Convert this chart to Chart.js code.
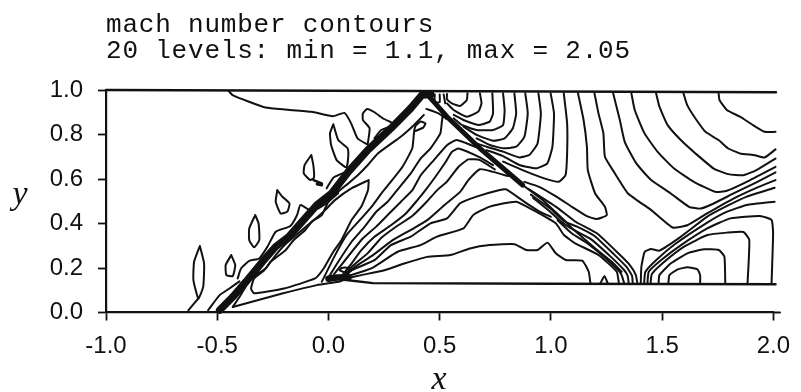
<!DOCTYPE html>
<html><head><meta charset="utf-8">
<style>html,body{margin:0;padding:0;background:#fff}canvas{display:block}</style>
<script src="https://cdn.jsdelivr.net/npm/chart.js@4"></script>
</head><body><canvas id="c" width="801" height="392"></canvas>
<script>
const titleLines = ["mach number contours", "20 levels: min = 1.1, max = 2.05"];
const xLabel = "x", yLabel = "y";
const xTicks = [-1.0,-0.5,0.0,0.5,1.0,1.5,2.0];
const yTicks = [0.0,0.2,0.4,0.6,0.8,1.0];

// boundaries
const wallTop = [[-1,1],[2.012,0.99]];
const wallFloor = [[0.07,0.147],[0.2,0.132],[1,0.129],[2.01,0.127]];
const axisTail = [[2,0],[2.03,0]];
const ramp = [[-0.43,0.025],[-0.208,0.085],[-0.052,0.123],[0.044,0.138],[0.07,0.147]];
// strong shocks
const shockUp = [[-0.489,0.011],[-0.43,0.07],[-0.371,0.138],[-0.297,0.228],[-0.237,0.296],[-0.178,0.341],[-0.119,0.408],[-0.052,0.483],[0.014,0.535],[0.089,0.632],[0.177,0.73],[0.281,0.828],[0.37,0.918],[0.421,0.978],[0.46,0.98]];
const shockDown = [[0.44,0.985],[0.533,0.88],[0.681,0.738],[0.873,0.573]];
const shockTail = [[0.873,0.573],[0.963,0.506],[1.059,0.416],[1.096,0.378],[1.2,0.288],[1.274,0.228],[1.318,0.183]];
const cornerBlob = [[0.0,0.152],[0.04,0.157],[0.09,0.158]];
const cornerLoop = [[0.05,0.19],[0.06,0.2],[0.09,0.2],[0.105,0.19],[0.08,0.178],[0.05,0.19]];
const speckles = [[-0.21,0.318],[-0.24,0.303],[-0.262,0.296],[-0.311,0.228],[-0.356,0.153],[-0.408,0.108],[-0.06,0.49],[0.13,0.68],[0.23,0.79],[0.31,0.86]];

// upper-right family, wall to shock
const r1 = [[1.754,0.985],[1.758,0.955],[1.791,0.91],[1.85,0.88],[1.909,0.842],[1.961,0.812],[2.01,0.812]];
const r2 = [[1.596,0.985],[1.613,0.932],[1.65,0.872],[1.695,0.812],[1.754,0.775],[1.798,0.737],[1.85,0.715],[1.917,0.707],[1.961,0.697],[2.01,0.733]];
const r3 = [[1.473,0.985],[1.488,0.925],[1.525,0.842],[1.584,0.775],[1.65,0.715],[1.732,0.647],[1.798,0.622],[1.865,0.617],[1.924,0.64],[2.01,0.692]];
const r4 = [[1.362,0.985],[1.377,0.91],[1.421,0.805],[1.48,0.722],[1.554,0.647],[1.643,0.587],[1.739,0.542],[1.791,0.547],[1.88,0.587],[2.01,0.655]];
const r5 = [[1.28,0.985],[1.31,0.865],[1.332,0.767],[1.384,0.67],[1.451,0.595],[1.539,0.535],[1.621,0.475],[1.673,0.467],[1.732,0.49],[1.821,0.535],[1.924,0.585],[2.01,0.63]];
const r6 = [[1.196,0.985],[1.214,0.895],[1.236,0.805],[1.243,0.7],[1.288,0.625],[1.347,0.535],[1.451,0.46],[1.547,0.382],[1.613,0.392],[1.702,0.445],[1.821,0.512],[1.924,0.56],[2.01,0.595]];
const r7 = [[1.122,0.985],[1.147,0.865],[1.162,0.745],[1.166,0.64],[1.199,0.535],[1.243,0.475],[1.251,0.437],[1.206,0.42],[1.162,0.433],[1.095,0.475],[1.021,0.523],[0.947,0.565],[0.881,0.587]];
const r8 = [[1.058,0.985],[1.073,0.85],[1.073,0.715],[1.066,0.618],[1.036,0.588],[0.97,0.603],[0.873,0.64],[0.785,0.678]];
const r9 = [[0.999,0.985],[1.014,0.895],[1.007,0.745],[0.984,0.67],[0.933,0.648],[0.859,0.663],[0.785,0.703],[0.711,0.73]];
const r10 = [[0.944,0.985],[0.955,0.895],[0.94,0.76],[0.903,0.708],[0.859,0.697],[0.785,0.723],[0.711,0.745],[0.666,0.76]];
const r11 = [[0.885,0.985],[0.896,0.895],[0.881,0.79],[0.844,0.745],[0.785,0.738],[0.725,0.753],[0.666,0.783]];
const r12 = [[0.836,0.985],[0.844,0.895],[0.829,0.828],[0.792,0.783],[0.74,0.772],[0.666,0.798],[0.607,0.835]];
const r13 = [[0.785,0.985],[0.792,0.91],[0.785,0.843],[0.74,0.82],[0.666,0.82],[0.6,0.843],[0.563,0.873]];
const r14 = [[0.737,0.985],[0.74,0.895],[0.725,0.858],[0.674,0.843],[0.607,0.865],[0.563,0.888]];
const r15 = [[0.681,0.985],[0.688,0.94],[0.674,0.903],[0.622,0.88],[0.563,0.91],[0.533,0.94]];
const r16 = [[0.625,0.985],[0.622,0.955],[0.592,0.928],[0.555,0.94],[0.533,0.958],[0.533,0.982]];

// lower-right loops, floor to floor or floor to right edge
const l1 = [[1.528,0.13],[1.533,0.168],[1.57,0.194],[1.614,0.203],[1.659,0.194],[1.671,0.168],[1.671,0.13]];
const l2 = [[1.484,0.13],[1.488,0.168],[1.54,0.221],[1.614,0.266],[1.688,0.284],[1.755,0.281],[1.78,0.251],[1.784,0.13]];
const l3 = [[1.448,0.13],[1.454,0.173],[1.51,0.228],[1.599,0.296],[1.703,0.348],[1.792,0.359],[1.866,0.362],[1.892,0.326],[1.884,0.13]];
const l4 = [[1.434,0.13],[1.44,0.183],[1.496,0.236],[1.585,0.303],[1.703,0.378],[1.807,0.423],[1.94,0.434],[1.992,0.416],[1.999,0.356],[1.992,0.13]];
const l5 = [[1.419,0.13],[1.425,0.183],[1.474,0.236],[1.562,0.31],[1.703,0.404],[1.792,0.453],[1.881,0.483],[2.006,0.498]];
const l6 = [[1.404,0.13],[1.407,0.206],[1.422,0.273],[1.451,0.285],[1.488,0.278],[1.585,0.341],[1.703,0.431],[1.792,0.479],[1.881,0.521],[2.006,0.561]];

// fan from the ramp corner, rising to the shocks
const f1 = [[0.081,0.153],[0.148,0.168],[0.252,0.19],[0.341,0.22],[0.444,0.25],[0.548,0.258],[0.636,0.288],[0.725,0.303],[0.837,0.307],[0.889,0.281],[0.941,0.281],[0.985,0.314],[1.022,0.266],[1.067,0.236],[1.141,0.233],[1.17,0.183],[1.178,0.13]];
const f2 = [[0.089,0.164],[0.193,0.198],[0.311,0.273],[0.414,0.303],[0.488,0.341],[0.607,0.378],[0.651,0.438],[0.725,0.476],[0.844,0.498],[0.919,0.461],[1.022,0.401],[1.059,0.348],[1.111,0.31],[1.215,0.258],[1.296,0.183],[1.306,0.13]];
const f3 = [[0.08,0.165],[0.104,0.19],[0.207,0.235],[0.281,0.303],[0.37,0.341],[0.459,0.401],[0.533,0.423],[0.592,0.491],[0.666,0.521],[0.77,0.551],[0.8,0.553],[0.881,0.497],[0.947,0.455],[1.0,0.43]];
const f4 = [[0.075,0.165],[0.111,0.2],[0.2,0.258],[0.289,0.325],[0.377,0.375],[0.444,0.415],[0.518,0.48],[0.592,0.542],[0.629,0.595],[0.681,0.644],[0.74,0.632],[0.807,0.613]];
const f5 = [[0.07,0.165],[0.104,0.205],[0.178,0.268],[0.237,0.335],[0.296,0.38],[0.378,0.435],[0.444,0.5],[0.489,0.55],[0.533,0.588],[0.585,0.655],[0.629,0.688],[0.681,0.685],[0.748,0.643]];
const f6 = [[0.06,0.165],[0.1,0.215],[0.148,0.28],[0.207,0.34],[0.281,0.392],[0.348,0.445],[0.4,0.505],[0.437,0.551],[0.481,0.61],[0.526,0.675],[0.555,0.722],[0.585,0.737],[0.681,0.697],[0.74,0.662]];
const f7 = [[0.022,0.168],[0.148,0.326],[0.215,0.386],[0.274,0.446],[0.326,0.498],[0.378,0.551],[0.415,0.617],[0.474,0.685],[0.533,0.752],[0.577,0.775],[0.666,0.742]];
const f8 = [[0.0,0.157],[0.044,0.228],[0.104,0.318],[0.163,0.386],[0.215,0.453],[0.266,0.498],[0.303,0.543],[0.37,0.625],[0.414,0.692],[0.459,0.738],[0.503,0.805],[0.51,0.858],[0.515,0.895]];
const f9 = [[-0.03,0.138],[0.03,0.258],[0.081,0.348],[0.148,0.423],[0.2,0.483],[0.244,0.543],[0.281,0.588],[0.333,0.655],[0.377,0.738],[0.385,0.813],[0.392,0.839],[0.414,0.858],[0.436,0.85],[0.426,0.831],[0.392,0.816]];
const apexLink = [[0.44,0.915],[0.495,0.895],[0.53,0.87]];

// wedge under the leading shock
const wedge = [[0.181,0.595],[0.178,0.551],[0.148,0.476],[0.104,0.416],[0.059,0.326],[0.02,0.27],[-0.02,0.2],[-0.06,0.153],[-0.2,0.108],[-0.334,0.086],[-0.348,0.108],[-0.334,0.153],[-0.289,0.19],[-0.237,0.258],[-0.19,0.31],[-0.12,0.37],[-0.06,0.42],[-0.015,0.46],[0.029,0.505],[0.103,0.558],[0.181,0.595]];

// shock-parallel bundle
const bundle1 = [[0.9,0.555],[1.022,0.476],[1.111,0.408],[1.207,0.356],[1.303,0.266],[1.355,0.213],[1.382,0.168],[1.389,0.13]];
const bundle2 = [[0.91,0.53],[1.0,0.465],[1.06,0.41],[1.12,0.385],[1.195,0.345],[1.285,0.26],[1.34,0.205],[1.365,0.165],[1.368,0.13]];
const bundle3 = [[0.92,0.515],[1.0,0.45],[1.05,0.405],[1.105,0.37],[1.18,0.33],[1.27,0.25],[1.33,0.19],[1.345,0.165],[1.35,0.13]];
const bundle4 = [[1.03,0.415],[1.095,0.355],[1.165,0.31],[1.25,0.24],[1.315,0.175],[1.33,0.13]];

// envelopes beside the leading shock
const env1 = [[-0.541,0.01],[-0.489,0.078],[-0.445,0.108],[-0.4,0.14]];
const env2 = [[-0.408,0.153],[-0.393,0.198],[-0.356,0.232],[-0.311,0.243],[-0.274,0.296],[-0.237,0.363],[-0.171,0.389],[-0.141,0.438],[-0.126,0.483],[-0.075,0.453]];
const env3 = [[-0.43,0.025],[-0.4,0.07],[-0.348,0.153],[-0.282,0.198],[-0.26,0.228],[-0.193,0.28],[-0.156,0.326],[-0.104,0.371],[-0.075,0.408],[-0.03,0.438],[0,0.498],[0.044,0.536]];
const env4 = [[-0.045,0.468],[0,0.498],[0.044,0.543],[0.089,0.58],[0.133,0.618],[0.177,0.663],[0.222,0.715],[0.325,0.79],[0.385,0.843],[0.429,0.888]];
const env5 = [[-0.008,0.558],[0.022,0.606],[0.074,0.63]];
const env6 = [[0.207,0.783],[0.237,0.82],[0.274,0.835]];

// free-stream side
const farLine = [[-0.449,0.996],[-0.431,0.977],[-0.357,0.947],[-0.283,0.921],[-0.194,0.912],[-0.076,0.902],[0.02,0.882],[0.072,0.897],[0.102,0.85],[0.131,0.782],[0.176,0.755]];
const farHook = [[0.177,0.76],[0.185,0.828],[0.155,0.865],[0.155,0.895],[0.174,0.915],[0.207,0.9],[0.244,0.873],[0.281,0.855]];
const blobA = [[0.022,0.846],[0.007,0.805],[0.012,0.753],[0.037,0.685],[0.081,0.652],[0.089,0.7],[0.086,0.738],[0.044,0.775],[0.022,0.846]];
const blobB = [[-0.077,0.708],[-0.107,0.663],[-0.111,0.625],[-0.082,0.595],[-0.065,0.606],[-0.068,0.663],[-0.077,0.708]];
const blobBTail = [[-0.067,0.595],[-0.03,0.58],[-0.03,0.572],[-0.052,0.577]];
const blobC = [[-0.23,0.55],[-0.237,0.498],[-0.215,0.445],[-0.185,0.453],[-0.175,0.49],[-0.207,0.52],[-0.23,0.55]];
const blobD = [[-0.329,0.438],[-0.356,0.378],[-0.356,0.325],[-0.334,0.293],[-0.311,0.325],[-0.314,0.4],[-0.329,0.438]];
const blobE = [[-0.437,0.258],[-0.462,0.213],[-0.459,0.168],[-0.43,0.164],[-0.419,0.213],[-0.437,0.258]];
const blobF = [[-0.578,0.299],[-0.604,0.228],[-0.607,0.146],[-0.585,0.063],[-0.563,0.115],[-0.559,0.22],[-0.578,0.299]];
const blobFTail = [[-0.585,0.063],[-0.63,0.01]];

// near the apex
const apexBox = [[0.478,0.98],[0.478,0.945],[0.5,0.945],[0.5,0.98]];
const apexTick = [[0.518,0.98],[0.525,0.94]];
const floorNub = [[1.222,0.13],[1.241,0.164],[1.256,0.13]];

const thinLines = [r1,r2,r3,r4,r5,r6,r7,r8,r9,r10,r11,r12,r13,r14,r15,r16,l1,l2,l3,l4,l5,l6,f1,f2,f3,f4,f5,f6,f7,f8,f9,apexLink,wedge,bundle1,bundle2,bundle3,bundle4,env1,env2,env3,env4,env5,env6,farLine,farHook,blobA,blobB,blobC,blobD,blobE,blobF,blobFTail,apexBox,apexTick,floorNub,ramp,cornerLoop];
const INK = "#111111";
const toPts = a => a.map(p => ({x:p[0], y:p[1]}));
const lineSet = (a, w, t) => ({data:toPts(a), showLine:true, pointRadius:0, borderColor:INK, backgroundColor:INK, borderWidth:w, tension:t, clip:false, borderCapStyle:"round", borderJoinStyle:"round"});
const datasets = thinLines.map(a => lineSet(a, 2, 0.15));
datasets.push(lineSet(wallTop, 2.4, 0), lineSet(wallFloor, 2.4, 0), lineSet(axisTail, 2, 0));
datasets.push(lineSet(shockUp, 7.5, 0), lineSet(shockDown, 5, 0), lineSet(shockTail, 2, 0), lineSet(cornerBlob, 6.5, 0), lineSet(blobBTail, 2.6, 0));
datasets.push({data:toPts(speckles), showLine:false, pointRadius:1.4, pointBackgroundColor:"#fff", pointBorderWidth:0, clip:false});

const textPlugin = {
  id:"textPlugin",
  afterDraw(chart){
    const ctx = chart.ctx; ctx.save();
    ctx.fillStyle = INK; ctx.textBaseline = "alphabetic"; ctx.textAlign = "left";
    ctx.font = '26px "Liberation Mono"'; ctx.letterSpacing = "0.8px";
    ctx.fillText(titleLines[0], 106, 31.5);
    ctx.fillText(titleLines[1], 106, 58);
    ctx.letterSpacing = "0px";
    ctx.font = 'italic 34px "Liberation Serif"'; ctx.textAlign = "center";
    ctx.fillText(xLabel, 439, 389);
    ctx.fillText(yLabel, 20, 204);
    ctx.restore();
  }
};
new Chart(document.getElementById("c"), {
  type:"scatter",
  data:{datasets},
  plugins:[textPlugin],
  options:{
    responsive:false, animation:false,
    layout:{padding:{top:90,right:21,left:0,bottom:0}},
    plugins:{legend:{display:false},title:{display:false},tooltip:{enabled:false}},
    scales:{
      x:{type:"linear",min:-1,max:2,
        afterFit(s){s.height=79.5;},
        afterBuildTicks(s){s.ticks=xTicks.map(v=>({value:v}));},
        ticks:{color:INK,font:{family:'"Liberation Sans"',size:24},padding:11,maxRotation:0,autoSkip:false,callback:v=>v.toFixed(1)},
        grid:{drawOnChartArea:false,drawTicks:true,tickLength:8,tickWidth:1.8,tickColor:INK},
        border:{color:INK,width:2.2}},
      y:{type:"linear",min:0,max:1,
        afterFit(s){s.width=106;},
        afterBuildTicks(s){s.ticks=yTicks.map(v=>({value:v}));},
        ticks:{color:INK,font:{family:'"Liberation Sans"',size:24},padding:15,autoSkip:false,callback:v=>v.toFixed(1)},
        grid:{drawOnChartArea:false,drawTicks:true,tickLength:8,tickWidth:1.8,tickColor:INK},
        border:{color:INK,width:2.2}}
    }
  }
});
</script></body></html>
